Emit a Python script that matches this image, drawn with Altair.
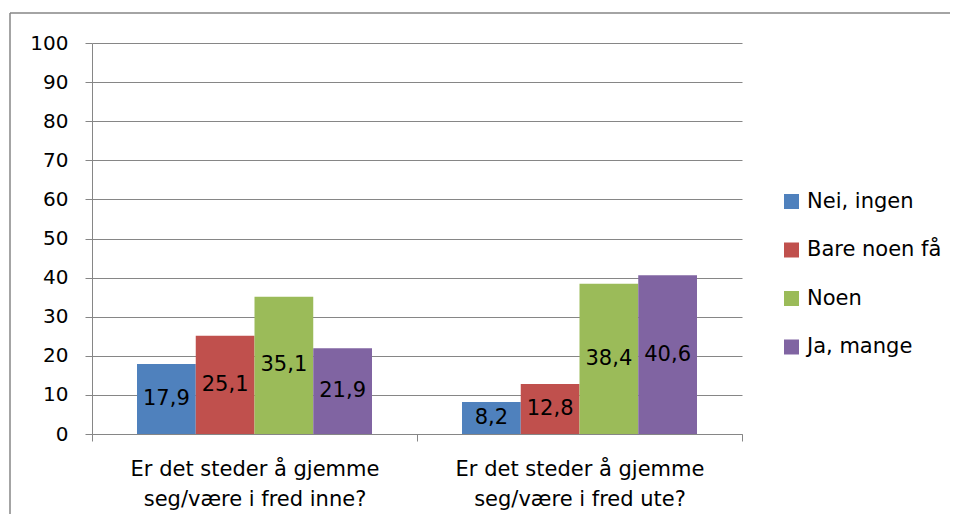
import altair as alt
import pandas as pd

categories = ["Er det steder å gjemme\nseg/være i fred inne?",
              "Er det steder å gjemme\nseg/være i fred ute?"]
series = ["Nei, ingen", "Bare noen få", "Noen", "Ja, mange"]
values_inne = [17.9, 25.1, 35.1, 21.9]
values_ute = [8.2, 12.8, 38.4, 40.6]
colors = ["#4F81BD", "#C0504D", "#9BBB59", "#8064A2"]
y_ticks = [0, 10, 20, 30, 40, 50, 60, 70, 80, 90, 100]

rows = []
for cat, vals in zip(categories, [values_inne, values_ute]):
    for s, v in zip(series, vals):
        rows.append({"cat": cat, "series": s, "value": v,
                     "label": f"{v:.1f}".replace(".", ",")})
df = pd.DataFrame(rows)

FONT = "DejaVu Sans"
FS = 21
GRID = "#868686"

x_axis = alt.Axis(labelExpr="split(datum.label, '\\n')",
                  labelAngle=0, labelFontSize=FS, labelFont=FONT,
                  labelColor="black", labelLineHeight=30,
                  labelPadding=17, tickBand="extent", tickSize=7,
                  tickColor=GRID, domainColor=GRID, grid=False,
                  labelBaseline="top", labelLimit=0)
x_scale = alt.Scale(paddingInner=0, paddingOuter=0)
xo_scale = alt.Scale(paddingInner=0, paddingOuter=0.766)
y_axis = alt.Axis(values=y_ticks, labelFontSize=20, labelFont=FONT,
                  labelColor="black", tickSize=7, tickColor=GRID,
                  domainColor=GRID, gridColor=GRID, gridWidth=1,
                  labelPadding=17, labelOverlap=False)
y_scale = alt.Scale(domain=[0, 100], nice=False)

bars = alt.Chart(df).mark_bar().encode(
    x=alt.X("cat:N", sort=categories, title=None, scale=x_scale, axis=x_axis),
    xOffset=alt.XOffset("series:N", sort=series, scale=xo_scale),
    y=alt.Y("value:Q", title=None, scale=y_scale, axis=y_axis),
    color=alt.Color("series:N", sort=series,
                    scale=alt.Scale(domain=series, range=colors),
                    legend=alt.Legend(title=None, orient="none",
                                      legendX=689, legendY=148,
                                      symbolType="square", symbolSize=225,
                                      symbolStrokeWidth=0,
                                      labelFontSize=FS, labelFont=FONT,
                                      labelColor="black", rowPadding=26.5,
                                      labelOffset=5, padding=0,
                                      labelLimit=0)),
)

text = alt.Chart(df).transform_calculate(mid="datum.value / 2").mark_text(
    fontSize=FS, font=FONT, color="black", baseline="middle"
).encode(
    x=alt.X("cat:N", sort=categories, title=None, scale=x_scale, axis=x_axis),
    xOffset=alt.XOffset("series:N", sort=series, scale=xo_scale),
    y=alt.Y("mid:Q", title=None, scale=y_scale, axis=y_axis),
    text="label:N",
)

frame_df = pd.DataFrame({"a": [0]})
frame_left = alt.Chart(frame_df).mark_rule(stroke=GRID, strokeWidth=1.5).encode(
    x=alt.value(-82), y=alt.value(-30), y2=alt.value(471)
)
frame_top = alt.Chart(frame_df).mark_rule(stroke=GRID, strokeWidth=1.5).encode(
    x=alt.value(-82), x2=alt.value(858), y=alt.value(-30)
)

chart = alt.layer(frame_left, frame_top, bars, text).properties(
    width=650, height=391,
    autosize=alt.AutoSizeParams(type="none"),
    padding={"left": 84, "top": 35, "right": 208, "bottom": 80},
).configure_view(stroke=None).configure_axis(labelFont=FONT)

chart.save("out.html", embed_options={"renderer": "svg", "actions": False})
